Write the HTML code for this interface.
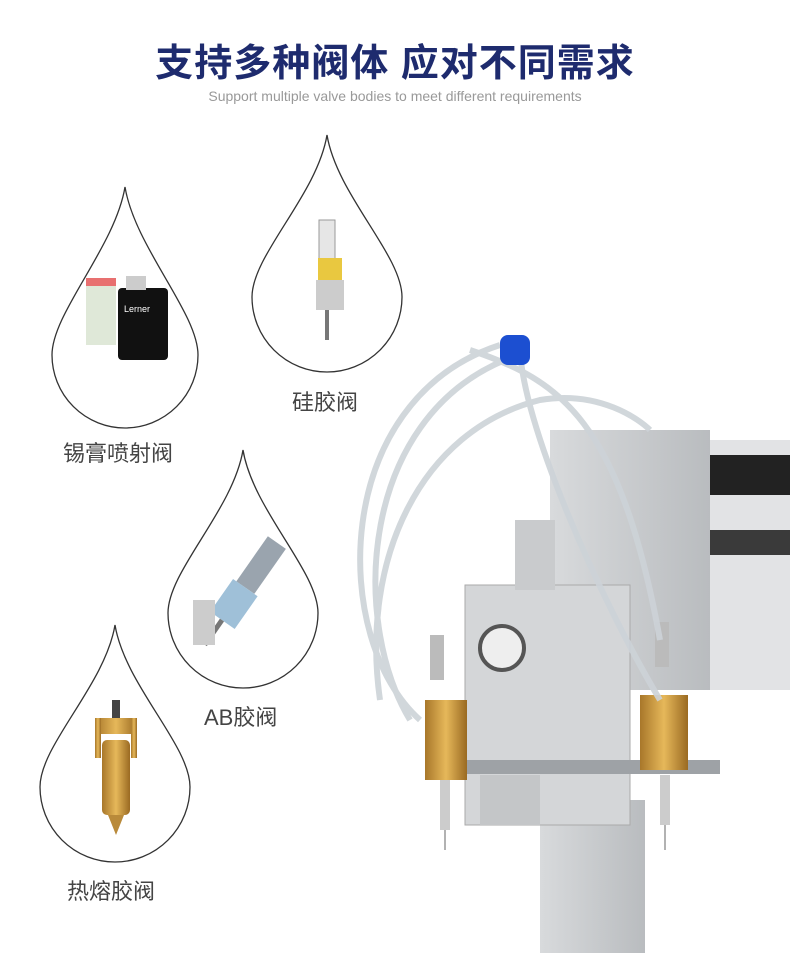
<!DOCTYPE html>
<html><head><meta charset="utf-8"><style>
body{margin:0;width:790px;height:953px;background:#fff;overflow:hidden;position:relative;font-family:"Liberation Sans","Noto Sans CJK SC",sans-serif}
.t{position:absolute;white-space:nowrap}
</style></head><body>
<svg width="790" height="953" style="position:absolute;left:0;top:0">
<defs>
<linearGradient id="m" x1="0" x2="1"><stop offset="0" stop-color="#d8dadc"/><stop offset="1" stop-color="#b9bcbf"/></linearGradient>
<linearGradient id="g" x1="0" x2="1"><stop offset="0" stop-color="#a8772a"/><stop offset=".5" stop-color="#e6b85a"/><stop offset="1" stop-color="#9a6a22"/></linearGradient>
</defs>
<g fill="none" stroke="#333" stroke-width="1.3">
<path d="M125,187 C115,247 52,313 52,355 A73,73 0 0 0 198,355 C198,313 135,247 125,187Z"/>
<path d="M327,135 C317,195 252,255 252,297 A75,75 0 0 0 402,297 C402,255 337,195 327,135Z"/>
<path d="M243,450 C233,510 168,571 168,613 A75,75 0 0 0 318,613 C318,571 253,510 243,450Z"/>
<path d="M115,625 C105,685 40,745 40,787 A75,75 0 0 0 190,787 C190,745 125,685 115,625Z"/>
</g>
<rect x="86" y="285" width="30" height="60" fill="#dfe8d8"/><rect x="86" y="278" width="30" height="8" fill="#e87070"/>
<rect x="118" y="288" width="50" height="72" rx="4" fill="#111"/><rect x="126" y="276" width="20" height="14" fill="#ccc"/>
<text x="124" y="312" font-size="9" fill="#fff">Lerner</text>
<rect x="319" y="220" width="16" height="40" fill="#e6e6e6" stroke="#999"/><rect x="318" y="258" width="24" height="22" fill="#e9c840"/><rect x="316" y="280" width="28" height="30" fill="#ccc"/><rect x="325" y="310" width="4" height="30" fill="#777"/>
<g transform="rotate(35 240 590)"><rect x="232" y="530" width="22" height="55" fill="#9aa4ae"/><rect x="228" y="585" width="30" height="40" fill="#9fc0d8"/><rect x="240" y="625" width="5" height="30" fill="#777"/></g>
<rect x="193" y="600" width="22" height="45" fill="#ccc"/>
<rect x="95" y="718" width="42" height="16" fill="url(#g)"/><rect x="95" y="718" width="6" height="40" fill="url(#g)"/><rect x="131" y="718" width="6" height="40" fill="url(#g)"/>
<rect x="102" y="740" width="28" height="75" rx="5" fill="url(#g)"/><path d="M108,815 L124,815 116,835Z" fill="#b98a3a"/><rect x="112" y="700" width="8" height="18" fill="#444"/>
<rect x="540" y="800" width="105" height="153" fill="url(#m)"/>
<rect x="705" y="440" width="85" height="250" fill="#e2e3e5"/>
<rect x="705" y="455" width="85" height="40" fill="#222"/>
<rect x="705" y="530" width="85" height="25" fill="#3a3a3a"/>
<rect x="550" y="430" width="160" height="260" fill="url(#m)"/>
<rect x="465" y="585" width="165" height="240" fill="#d4d6d8" stroke="#aaa"/>
<rect x="515" y="520" width="40" height="70" fill="#c9cbcd"/>
<circle cx="502" cy="648" r="22" fill="#eee" stroke="#555" stroke-width="4"/>
<rect x="430" y="760" width="290" height="14" fill="#9ea2a6"/>
<rect x="480" y="775" width="60" height="50" fill="#c4c6c8"/>
<rect x="425" y="700" width="42" height="80" fill="url(#g)"/><rect x="640" y="695" width="48" height="75" fill="url(#g)"/>
<rect x="440" y="780" width="10" height="50" fill="#ccc"/><rect x="660" y="775" width="10" height="50" fill="#ccc"/>
<line x1="445" y1="830" x2="445" y2="850" stroke="#666"/><line x1="665" y1="825" x2="665" y2="850" stroke="#666"/>
<rect x="430" y="635" width="14" height="45" fill="#bbb"/><rect x="655" y="622" width="14" height="45" fill="#bbb"/>
<g fill="none" stroke="#cdd3d8" stroke-width="6" opacity=".9">
<path d="M420,720 C330,640 330,400 500,345"/><path d="M410,720 C350,620 360,420 505,360"/>
<path d="M660,700 C600,600 520,420 520,345"/><path d="M470,350 C560,380 620,420 660,640"/>
<path d="M380,700 C360,560 420,430 540,400 C600,390 640,420 650,430"/>
</g>
<rect x="500" y="335" width="30" height="30" rx="8" fill="#1c4fd1"/>
</svg>
<div class="t" style="left:0;width:790px;text-align:center;top:32px;font-size:38px;font-weight:bold;color:#1e2b6e;letter-spacing:1px">支持多种阀体&nbsp;应对不同需求</div>
<div class="t" style="left:0;width:790px;text-align:center;top:88px;font-size:14px;color:#999">Support multiple valve bodies to meet different requirements</div>
<div class="t" style="left:63px;top:436px;font-size:22px;color:#444">锡膏喷射阀</div>
<div class="t" style="left:292px;top:385px;font-size:22px;color:#444">硅胶阀</div>
<div class="t" style="left:204px;top:700px;font-size:22px;color:#444">AB胶阀</div>
<div class="t" style="left:67px;top:874px;font-size:22px;color:#444">热熔胶阀</div>
</body></html>
